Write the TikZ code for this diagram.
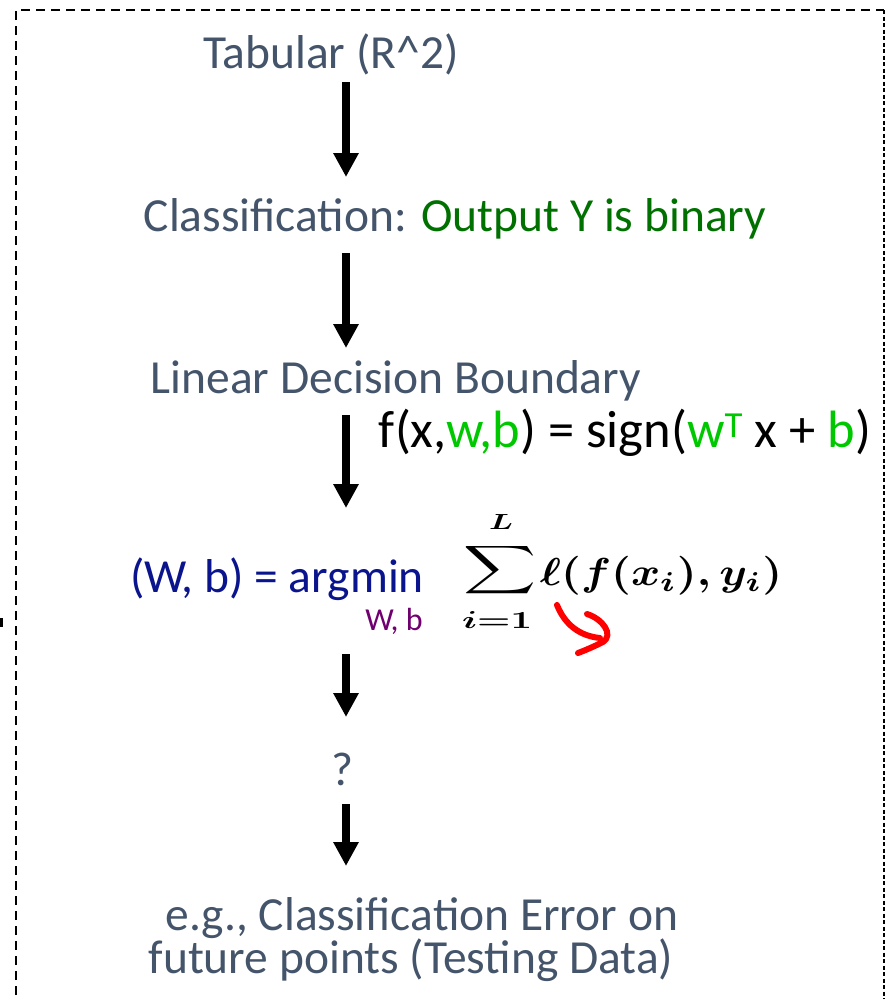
\documentclass[tikz,border=0pt]{standalone}
\usepackage{fontspec}
\setmainfont{Carlito}
\usepackage{graphicx}
\usetikzlibrary{arrows.meta}

\definecolor{slate}{RGB}{68,84,106}
\definecolor{darkgreen}{RGB}{0,112,0}
\definecolor{litegreen}{RGB}{0,200,0}
\definecolor{navyblue}{RGB}{10,20,140}
\definecolor{plum}{RGB}{112,0,112}

\tikzset{
  lbl/.style={font=\fontsize{47.5}{44}\selectfont, text=slate, inner sep=0pt, anchor=base},
  mathpart/.style={inner sep=0pt},
  flow/.style={line width=8pt, -{Triangle[width=24pt,length=24pt]}},
  frame/.style={line width=1.6pt, dash pattern=on 9pt off 6pt},
  framefine/.style={line width=1.6pt, dash pattern=on 4pt off 2.5pt},
  scribble/.style={red, line width=6pt, line cap=round, line join=round}
}

\begin{document}
\begin{tikzpicture}[x=1pt,y=-1pt]
\useasboundingbox (0,0) rectangle (891,999);

% dashed frame (its bottom edge lies below the page)
\draw[frame] (16,1010) -- (16,10) -- (884,10);
\draw[framefine] (884,10) -- (884,1010);
\fill (0,618) rectangle (3,627);

% steps of the pipeline
\node[lbl] (tab) at (331,68) {Tabular (R\^{}2)};
\node[lbl] (cls) at (455,231) {Classification: \textcolor{darkgreen}{Output Y is binary}};
\node[lbl] (lin) at (396,393) {Linear Decision Boundary};
\node[lbl, text=black, font=\fontsize{52.5}{52}\selectfont] (fx) at (625,447)
  {f(x,\textcolor{litegreen}{w,b}) = sign(\textcolor{litegreen}{w\textsuperscript{T}} x + \textcolor{litegreen}{b})};
\node[lbl, text=navyblue] (argm) at (277,592) {(W, b) = argmin};
\node[lbl, text=plum, font=\fontsize{32}{32}\selectfont] (sub) at (394,630) {W, b};

% loss term: sum with its limits and the summand
\node[mathpart, anchor=north west] (sig) at (463,543)
  {\resizebox*{73pt}{54pt}{\boldmath$\displaystyle\sum$}};
\node[mathpart] (up) at (501,522) {\resizebox*{24pt}{15pt}{\boldmath$L$}};
\node[mathpart] (low) at (497,620) {\resizebox*{70pt}{17pt}{\boldmath$i{=}1$}};
\node[mathpart, anchor=north west] (summand) at (540,556)
  {\resizebox*{242pt}{39pt}{\boldmath$\ell(f(x_i),y_i)$}};

\node[lbl] (q) at (343,785) {?};
\node[lbl] (eg1) at (422,930) {e.g., Classification Error on};
\node[lbl] (eg2) at (411,973) {future points (Testing Data)};

% arrow end points
\coordinate (a1) at (346,82);  \coordinate (b1) at (346,177);
\coordinate (a2) at (346,253); \coordinate (b2) at (346,348);
\coordinate (a3) at (346,415); \coordinate (b3) at (346,508);
\coordinate (a4) at (346,654); \coordinate (b4) at (346,717);
\coordinate (a5) at (346,804); \coordinate (b5) at (346,866);

\draw[flow] (a1) -- (b1);
\draw[flow] (a2) -- (b2);
\draw[flow] (a3) -- (b3);
\draw[flow] (a4) -- (b4);
\draw[flow] (a5) -- (b5);

% hand-drawn red hook under the loss
\coordinate (r0) at (557,605);
\coordinate (r1) at (600,638);
\coordinate (h0) at (587,614);
\coordinate (h1) at (603,642);
\coordinate (h2) at (578,653);
\draw[scribble] (r0) .. controls (565,625) and (580,636) .. (r1);
\draw[scribble] (h0) .. controls (603,619) and (614,635) .. (h1)
                     .. controls (595,646) and (586,650) .. (h2);
\end{tikzpicture}
\end{document}
